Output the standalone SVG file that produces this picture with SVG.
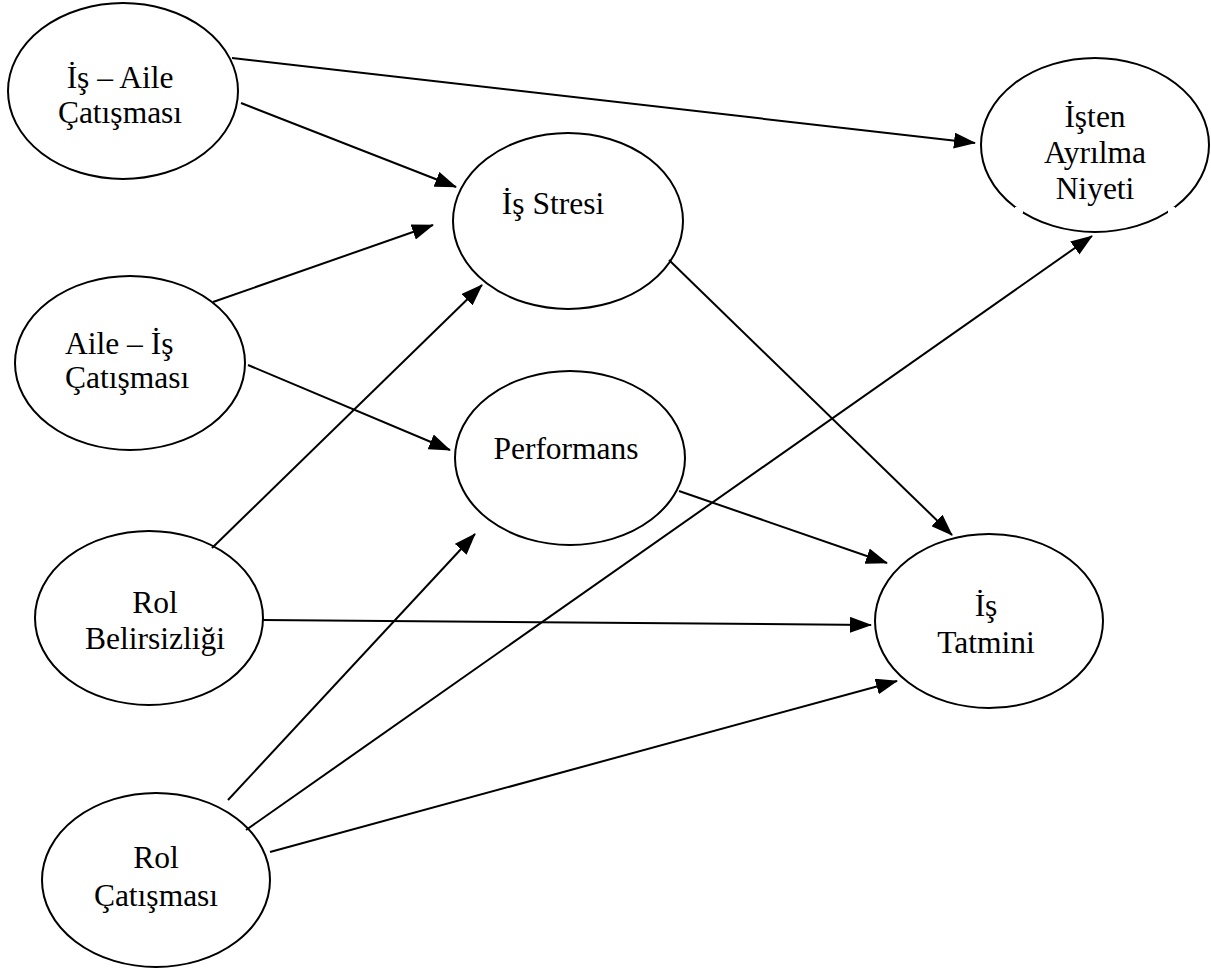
<svg xmlns="http://www.w3.org/2000/svg" width="1211" height="969" viewBox="0 0 1211 969">
<style>
.node ellipse{fill:none;stroke:#000;stroke-width:2}
.node text{font-family:"Liberation Serif","Times New Roman",serif;font-size:31.5px;fill:#000;text-anchor:middle}
.node text.left{text-anchor:start}
.gap{fill:#fff}
#connectors line{stroke:#000;stroke-width:2;marker-end:url(#arrow)}
</style>
<defs>
<marker id="arrow" markerUnits="userSpaceOnUse" markerWidth="22" markerHeight="16" viewBox="0 0 22 16" refX="21" refY="8" orient="auto">
<path d="M0,0 L22,8 L0,16 z" fill="#000"/>
</marker>
</defs>
<rect width="1211" height="969" fill="#fff"/>
<g id="connectors">
<line x1="232" y1="58" x2="975" y2="143"/>
<line x1="241" y1="103" x2="456" y2="187"/>
<line x1="213" y1="302" x2="433" y2="225"/>
<line x1="248" y1="365" x2="450" y2="450"/>
<line x1="212" y1="548" x2="482" y2="285"/>
<line x1="669" y1="260" x2="952" y2="535"/>
<line x1="679" y1="491" x2="887" y2="563"/>
<line x1="263" y1="620" x2="871" y2="625"/>
<line x1="228" y1="800" x2="475" y2="534"/>
<line x1="246" y1="830" x2="1092" y2="236"/>
<line x1="270" y1="852" x2="897" y2="681"/>
</g>
<g id="is-aile" class="node">
<ellipse cx="123" cy="91" rx="115" ry="88"/>
<text x="120" y="88">İş – Aile</text>
<text x="120" y="123">Çatışması</text>
</g>
<g id="is-stresi" class="node">
<ellipse cx="568" cy="221" rx="115" ry="88"/>
<text x="553" y="214">İş Stresi</text>
</g>
<g id="isten-ayrilma" class="node">
<ellipse cx="1095" cy="145" rx="114" ry="87"/>
<rect class="gap" x="1015" y="207" width="8" height="6"/>
<rect class="gap" x="1168" y="207" width="7" height="6"/>
<text x="1095" y="127">İşten</text>
<text x="1095" y="163">Ayrılma</text>
<text x="1095" y="199">Niyeti</text>
</g>
<g id="aile-is" class="node">
<ellipse cx="130" cy="363" rx="115" ry="87"/>
<text class="left" x="65" y="354">Aile – İş</text>
<text class="left" x="65" y="388">Çatışması</text>
</g>
<g id="performans" class="node">
<ellipse cx="570" cy="458" rx="115" ry="87"/>
<text x="566" y="459">Performans</text>
</g>
<g id="is-tatmini" class="node">
<ellipse cx="989" cy="621" rx="114" ry="87"/>
<text x="986" y="616">İş</text>
<text x="986" y="653">Tatmini</text>
</g>
<g id="rol-belirsizligi" class="node">
<ellipse cx="149" cy="618" rx="114" ry="87"/>
<text x="155" y="613">Rol</text>
<text x="155" y="649">Belirsizliği</text>
</g>
<g id="rol-catismasi" class="node">
<ellipse cx="156" cy="880" rx="114" ry="87"/>
<text x="156" y="868">Rol</text>
<text x="156" y="906">Çatışması</text>
</g>
</svg>
